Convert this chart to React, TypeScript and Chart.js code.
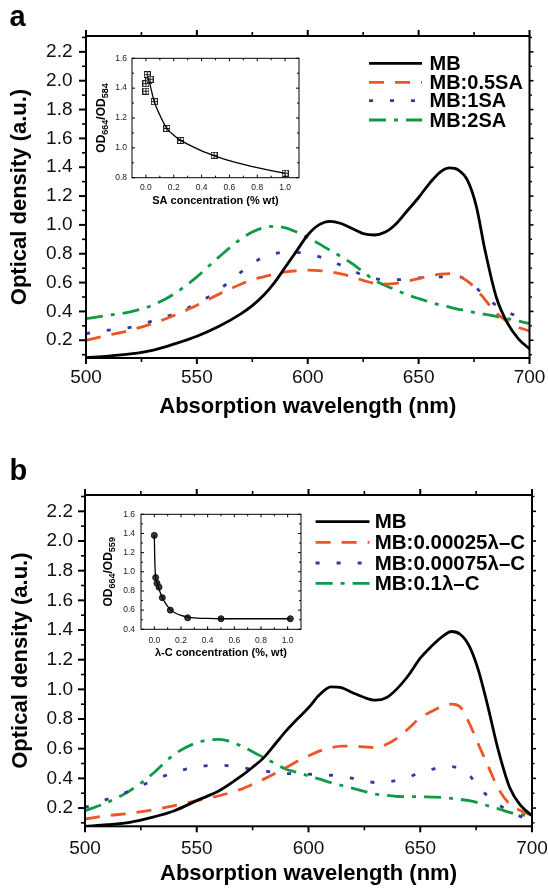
import React, { useEffect, useRef } from "react";
import { Chart, registerables } from "chart.js";

Chart.register(...registerables);

const FONT = "'Liberation Sans', Arial, Helvetica, sans-serif";
const RED = "#ee5526";
const BLUE = "#2c3aa6";
const GREEN = "#0f9a46";
const BLACK = "#000000";

const DASH_SOLID: number[] = [];
const DASH_RED = [15, 11];
const DASH_BLUE = [4, 17];
const DASH_GREEN = [17, 8, 4, 8];

// ---------------- data ----------------
const WAVELENGTH = [500, 510, 520, 530, 540, 550, 560, 570, 575, 580, 585, 590, 595, 600, 605, 610, 615, 620, 625, 630, 635, 640, 645, 650, 655, 660, 664, 668, 672, 676, 680, 685, 690, 695, 700];

const A_LABELS = ["MB", "MB:0.5SA", "MB:1SA", "MB:2SA"];
const A_MB = [0.08, 0.09, 0.105, 0.13, 0.175, 0.228, 0.297, 0.385, 0.44, 0.51, 0.6, 0.71, 0.82, 0.93, 1.0, 1.025, 1.01, 0.975, 0.94, 0.93, 0.95, 1.01, 1.1, 1.19, 1.29, 1.37, 1.395, 1.38, 1.31, 1.13, 0.82, 0.5, 0.32, 0.21, 0.14];
const A_SA05 = [0.2, 0.235, 0.27, 0.316, 0.373, 0.443, 0.52, 0.59, 0.62, 0.64, 0.66, 0.674, 0.682, 0.686, 0.683, 0.674, 0.66, 0.64, 0.615, 0.595, 0.59, 0.595, 0.61, 0.628, 0.645, 0.658, 0.662, 0.645, 0.61, 0.555, 0.48, 0.39, 0.33, 0.29, 0.265];
const A_SA1 = [0.246, 0.27, 0.29, 0.334, 0.385, 0.454, 0.55, 0.674, 0.73, 0.778, 0.8, 0.813, 0.81, 0.8, 0.78, 0.755, 0.72, 0.686, 0.65, 0.628, 0.62, 0.62, 0.625, 0.632, 0.636, 0.64, 0.64, 0.64, 0.615, 0.565, 0.5, 0.443, 0.397, 0.362, 0.327];
const A_SA2 = [0.35, 0.373, 0.397, 0.443, 0.524, 0.64, 0.778, 0.905, 0.95, 0.98, 0.99, 0.98, 0.95, 0.912, 0.87, 0.824, 0.78, 0.732, 0.675, 0.616, 0.58, 0.547, 0.515, 0.489, 0.465, 0.443, 0.43, 0.415, 0.405, 0.39, 0.38, 0.365, 0.35, 0.333, 0.316];

const B_LABELS = ["MB", "MB:0.00025\u03bb\u2013C", "MB:0.00075\u03bb\u2013C", "MB:0.1\u03bb\u2013C"];
const B_MB = [0.077, 0.088, 0.104, 0.137, 0.182, 0.25, 0.316, 0.417, 0.475, 0.54, 0.63, 0.72, 0.8, 0.876, 0.965, 1.017, 1.01, 0.976, 0.945, 0.927, 0.945, 1.01, 1.1, 1.21, 1.29, 1.357, 1.39, 1.37, 1.29, 1.13, 0.9, 0.585, 0.339, 0.216, 0.15];
const B_LC1 = [0.126, 0.149, 0.164, 0.187, 0.216, 0.25, 0.283, 0.328, 0.36, 0.395, 0.433, 0.473, 0.515, 0.551, 0.585, 0.607, 0.617, 0.618, 0.612, 0.607, 0.63, 0.674, 0.74, 0.808, 0.85, 0.887, 0.9, 0.88, 0.77, 0.63, 0.495, 0.33, 0.227, 0.182, 0.149];
const B_LC2 = [0.204, 0.26, 0.316, 0.383, 0.44, 0.477, 0.489, 0.473, 0.46, 0.45, 0.44, 0.433, 0.43, 0.428, 0.425, 0.421, 0.412, 0.4, 0.385, 0.372, 0.375, 0.388, 0.41, 0.44, 0.46, 0.477, 0.48, 0.462, 0.42, 0.345, 0.283, 0.222, 0.182, 0.142, 0.104];
const B_LC3 = [0.182, 0.238, 0.316, 0.428, 0.562, 0.64, 0.663, 0.618, 0.58, 0.54, 0.5, 0.462, 0.44, 0.417, 0.395, 0.372, 0.352, 0.332, 0.312, 0.294, 0.285, 0.278, 0.277, 0.276, 0.274, 0.272, 0.265, 0.258, 0.25, 0.235, 0.216, 0.195, 0.171, 0.155, 0.144];

const WL_MAJOR = [500, 550, 600, 650, 700];
const WL_MINOR = [525, 575, 625, 675];
const OD_MAJOR = [0.2, 0.4, 0.6, 0.8, 1.0, 1.2, 1.4, 1.6, 1.8, 2.0, 2.2];
const OD_MINOR = [0.1, 0.3, 0.5, 0.7, 0.9, 1.1, 1.3, 1.5, 1.7, 1.9, 2.1, 2.3];

// inset a (SA)
const SA_CONC = [0, 0, 0.01, 0.02, 0.03, 0.06, 0.15, 0.25, 0.49, 1.0];
const SA_RATIO = [1.38, 1.43, 1.49, 1.45, 1.46, 1.31, 1.13, 1.05, 0.95, 0.83];
const SA_FIT_X = [0.012, 0.03, 0.06, 0.1, 0.15, 0.2, 0.25, 0.3, 0.4, 0.5, 0.6, 0.7, 0.8, 0.9, 1.0];
const SA_FIT_Y = [1.48, 1.42, 1.31, 1.22, 1.13, 1.085, 1.05, 1.025, 0.98, 0.945, 0.914, 0.89, 0.867, 0.847, 0.83];
const SA_Y_MAJOR = [0.8, 1.0, 1.2, 1.4, 1.6];
const SA_Y_MINOR = [0.9, 1.1, 1.3, 1.5];

// inset b (lambda-C)
const LC_CONC = [0, 0.01, 0.02, 0.035, 0.06, 0.12, 0.25, 0.5, 1.02];
const LC_RATIO = [1.38, 0.94, 0.88, 0.84, 0.73, 0.6, 0.52, 0.51, 0.51];
const LC_FIT_X = [0, 0.003, 0.008, 0.015, 0.025, 0.04, 0.06, 0.08, 0.1, 0.125, 0.15, 0.2, 0.25, 0.3, 0.4, 0.5, 0.75, 1.02];
const LC_FIT_Y = [1.38, 1.15, 0.97, 0.91, 0.87, 0.8, 0.73, 0.68, 0.64, 0.6, 0.575, 0.545, 0.528, 0.52, 0.513, 0.51, 0.51, 0.51];
const LC_Y_MAJOR = [0.4, 0.6, 0.8, 1.0, 1.2, 1.4, 1.6];
const LC_Y_MINOR = [0.5, 0.7, 0.9, 1.1, 1.3, 1.5];

const INSET_X_MAJOR = [0, 0.2, 0.4, 0.6, 0.8, 1.0];
const INSET_X_MINOR = [0.1, 0.3, 0.5, 0.7, 0.9];

// ---------------- plugins ----------------
type TickSet = { axis: string; values: number[]; len: number; width: number; side: string; inward: boolean };

function decorPlugin(frameWidth: number, sets: TickSet[]) {
  return {
    id: "decor",
    afterDatasetsDraw(chart: any) {
      const { ctx, chartArea: a } = chart;
      ctx.save();
      ctx.strokeStyle = "#000";
      ctx.lineCap = "butt";
      ctx.setLineDash([]);
      for (const s of sets) {
        const sc = chart.scales[s.axis];
        ctx.lineWidth = s.width;
        const d = s.inward ? -s.len : s.len;
        for (const v of s.values) {
          if (v < sc.min || v > sc.max) continue;
          const p = sc.getPixelForValue(v);
          ctx.beginPath();
          if (s.side === "bottom") { ctx.moveTo(p, a.bottom); ctx.lineTo(p, a.bottom + d); }
          else if (s.side === "top") { ctx.moveTo(p, a.top); ctx.lineTo(p, a.top - d); }
          else if (s.side === "left") { ctx.moveTo(a.left, p); ctx.lineTo(a.left - d, p); }
          else { ctx.moveTo(a.right, p); ctx.lineTo(a.right + d, p); }
          ctx.stroke();
        }
      }
      ctx.lineWidth = frameWidth;
      ctx.strokeRect(a.left, a.top, a.right - a.left, a.bottom - a.top);
      ctx.restore();
    },
  };
}

function legendPlugin(x0: number, x1: number, tx: number, rows: number[], fontPx: number) {
  return {
    id: "legendBox",
    afterDraw(chart: any) {
      const ctx = chart.ctx;
      chart.data.datasets.forEach((ds: any, i: number) => {
        if (i >= rows.length) return;
        const y = rows[i];
        ctx.save();
        ctx.strokeStyle = ds.borderColor;
        ctx.lineWidth = ds.borderWidth;
        ctx.setLineDash(ds.borderDash || []);
        ctx.beginPath();
        ctx.moveTo(x0, y);
        ctx.lineTo(x1, y);
        ctx.stroke();
        ctx.setLineDash([]);
        ctx.fillStyle = "#000";
        ctx.font = `bold ${fontPx}px ${FONT}`;
        ctx.textBaseline = "middle";
        ctx.textAlign = "left";
        ctx.fillText(ds.label, tx, y + 1);
        ctx.restore();
      });
    },
  };
}

function ratioTitlePlugin(cx: number, cy: number, sub1: string, sub2: string) {
  return {
    id: "ratioTitle",
    afterDraw(chart: any) {
      const ctx = chart.ctx;
      const big = `bold 12px ${FONT}`;
      const small = `bold 9px ${FONT}`;
      const parts: [string, string, number][] = [["OD", big, 0], [sub1, small, 3], ["/OD", big, 0], [sub2, small, 3]];
      ctx.save();
      let total = 0;
      for (const [t, f] of parts) { ctx.font = f; total += ctx.measureText(t).width; }
      ctx.translate(cx, cy);
      ctx.rotate(-Math.PI / 2);
      ctx.fillStyle = "#000";
      ctx.textBaseline = "alphabetic";
      ctx.textAlign = "left";
      let x = -total / 2;
      for (const [t, f, dy] of parts) {
        ctx.font = f;
        ctx.fillText(t, x, 4.3 + dy);
        x += ctx.measureText(t).width;
      }
      ctx.restore();
    },
  };
}

function zeroPad(sc: any) {
  sc.paddingLeft = 0;
  sc.paddingRight = 0;
  sc.paddingTop = 0;
  sc.paddingBottom = 0;
}

// ---------------- configs ----------------
type MainSpec = {
  W: number; H: number; left: number; right: number; top: number; bottom: number;
  xTickPad: number; yTickPad: number; xTitlePad: number; yTitlePad: number;
  labels: string[]; values: number[][];
  legend: { x0: number; x1: number; tx: number; rows: number[]; font: number };
};

const SERIES_STYLE = [
  { color: BLACK, dash: DASH_SOLID },
  { color: RED, dash: DASH_RED },
  { color: BLUE, dash: DASH_BLUE },
  { color: GREEN, dash: DASH_GREEN },
];

function mainConfig(s: MainSpec): any {
  const datasets = s.labels.map((label, k) => ({
    label,
    data: WAVELENGTH.map((x, i) => ({ x, y: s.values[k][i] })),
    borderColor: SERIES_STYLE[k].color,
    borderWidth: 2.8,
    borderDash: SERIES_STYLE[k].dash,
    borderCapStyle: "butt",
    pointRadius: 0,
    fill: false,
    cubicInterpolationMode: "monotone",
  }));
  const tickFont = { family: FONT, size: 19 };
  const titleFont = { family: FONT, size: 22, weight: "bold" as const };
  return {
    type: "line",
    data: { datasets },
    options: {
      responsive: false,
      animation: false,
      events: [],
      layout: { padding: { top: s.top, right: s.W - s.right, left: 0, bottom: 0 } },
      plugins: { legend: { display: false }, tooltip: { enabled: false } },
      scales: {
        x: {
          type: "linear",
          min: 500,
          max: 700,
          afterBuildTicks: (sc: any) => { sc.ticks = WL_MAJOR.map((v) => ({ value: v })); },
          afterFit: (sc: any) => { sc.height = s.H - s.bottom; zeroPad(sc); },
          ticks: { font: tickFont, color: "#111", padding: s.xTickPad, maxRotation: 0, autoSkip: false, callback: (v: any) => String(v) },
          grid: { drawOnChartArea: false, drawTicks: false },
          border: { display: false },
          title: { display: true, text: "Absorption wavelength (nm)", font: titleFont, color: "#000", padding: { top: 0, bottom: s.xTitlePad } },
        },
        y: {
          type: "linear",
          min: 0.077,
          max: 2.31,
          afterBuildTicks: (sc: any) => { sc.ticks = OD_MAJOR.map((v) => ({ value: v })); },
          afterFit: (sc: any) => { sc.width = s.left; zeroPad(sc); },
          ticks: { font: tickFont, color: "#111", padding: s.yTickPad, autoSkip: false, callback: (v: any) => Number(v).toFixed(1) },
          grid: { drawOnChartArea: false, drawTicks: false },
          border: { display: false },
          title: { display: true, text: "Optical density (a.u.)", font: titleFont, color: "#000", padding: { top: s.yTitlePad, bottom: 0 } },
        },
      },
    },
    plugins: [
      decorPlugin(2, [
        { axis: "x", values: WL_MAJOR, len: 6, width: 2, side: "bottom", inward: false },
        { axis: "x", values: WL_MINOR, len: 4, width: 1.6, side: "bottom", inward: false },
        { axis: "x", values: WL_MAJOR, len: 6, width: 2, side: "top", inward: false },
        { axis: "x", values: WL_MINOR, len: 4, width: 1.6, side: "top", inward: false },
        { axis: "y", values: OD_MAJOR, len: 7, width: 2, side: "left", inward: false },
        { axis: "y", values: OD_MINOR, len: 4, width: 1.6, side: "left", inward: false },
        { axis: "y", values: OD_MAJOR, len: 4, width: 1.6, side: "right", inward: false },
        { axis: "y", values: OD_MINOR, len: 2.5, width: 1.4, side: "right", inward: false },
      ]),
      legendPlugin(s.legend.x0, s.legend.x1, s.legend.tx, s.legend.rows, s.legend.font),
    ],
  };
}

type InsetSpec = {
  W: number; H: number; left: number; right: number; top: number; bottom: number;
  yMin: number; yMax: number; yMajor: number[]; yMinor: number[];
  xTickPad: number; yTickPad: number; xTitlePad: number;
  xTitle: string; sub1: string; sub2: string; titleX: number;
  px: number[]; py: number[]; fx: number[]; fy: number[];
  marker: "square" | "circle";
};

function squareMarker(): HTMLCanvasElement {
  const c = document.createElement("canvas");
  c.width = 7;
  c.height = 7;
  const g = c.getContext("2d")!;
  g.fillStyle = "#ffffff";
  g.fillRect(0.5, 0.5, 6, 6);
  g.strokeStyle = "#222";
  g.lineWidth = 1;
  g.strokeRect(0.5, 0.5, 6, 6);
  g.beginPath();
  g.moveTo(3.5, 0.5); g.lineTo(3.5, 6.5);
  g.moveTo(0.5, 3.5); g.lineTo(6.5, 3.5);
  g.stroke();
  return c;
}

function insetConfig(s: InsetSpec): any {
  const tickFont = { family: FONT, size: 8.5 };
  const marker = s.marker === "square"
    ? { pointStyle: squareMarker(), pointRadius: 3.5, pointBackgroundColor: "#fff", pointBorderColor: "#222", pointBorderWidth: 1 }
    : { pointStyle: "circle", pointRadius: 3, pointBackgroundColor: "#3a3a3a", pointBorderColor: "#111", pointBorderWidth: 1 };
  return {
    type: "line",
    data: {
      datasets: [
        {
          label: "fit",
          data: s.fx.map((x, i) => ({ x, y: s.fy[i] })),
          borderColor: "#000",
          borderWidth: 1.3,
          pointRadius: 0,
          fill: false,
          cubicInterpolationMode: "monotone",
        },
        {
          label: "data",
          data: s.px.map((x, i) => ({ x, y: s.py[i] })),
          showLine: false,
          ...marker,
        },
      ],
    },
    options: {
      responsive: false,
      animation: false,
      events: [],
      layout: { padding: { top: s.top, right: s.W - s.right, left: 0, bottom: 0 } },
      plugins: { legend: { display: false }, tooltip: { enabled: false } },
      scales: {
        x: {
          type: "linear",
          min: -0.1,
          max: 1.1,
          afterBuildTicks: (sc: any) => { sc.ticks = INSET_X_MAJOR.map((v) => ({ value: v })); },
          afterFit: (sc: any) => { sc.height = s.H - s.bottom; zeroPad(sc); },
          ticks: { font: tickFont, color: "#222", padding: s.xTickPad, maxRotation: 0, autoSkip: false, callback: (v: any) => Number(v).toFixed(1) },
          grid: { drawOnChartArea: false, drawTicks: false },
          border: { display: false },
          title: { display: true, text: s.xTitle, font: { family: FONT, size: 11, weight: "bold" }, color: "#000", padding: { top: 0, bottom: s.xTitlePad } },
        },
        y: {
          type: "linear",
          min: s.yMin,
          max: s.yMax,
          afterBuildTicks: (sc: any) => { sc.ticks = s.yMajor.map((v) => ({ value: v })); },
          afterFit: (sc: any) => { sc.width = s.left; zeroPad(sc); },
          ticks: { font: tickFont, color: "#222", padding: s.yTickPad, autoSkip: false, callback: (v: any) => Number(v).toFixed(1) },
          grid: { drawOnChartArea: false, drawTicks: false },
          border: { display: false },
        },
      },
    },
    plugins: [
      decorPlugin(1, [
        { axis: "x", values: INSET_X_MAJOR, len: 3, width: 1, side: "bottom", inward: true },
        { axis: "x", values: INSET_X_MINOR, len: 2, width: 1, side: "bottom", inward: true },
        { axis: "x", values: INSET_X_MAJOR, len: 3, width: 1, side: "top", inward: true },
        { axis: "x", values: INSET_X_MINOR, len: 2, width: 1, side: "top", inward: true },
        { axis: "y", values: s.yMajor, len: 3, width: 1, side: "left", inward: true },
        { axis: "y", values: s.yMinor, len: 2, width: 1, side: "left", inward: true },
        { axis: "y", values: s.yMajor, len: 3, width: 1, side: "right", inward: true },
        { axis: "y", values: s.yMinor, len: 2, width: 1, side: "right", inward: true },
      ]),
      ratioTitlePlugin(s.titleX, (s.top + s.bottom) / 2, s.sub1, s.sub2),
    ],
  };
}

// ---------------- components ----------------
function ChartBox(props: { left: number; top: number; width: number; height: number; make: () => any }) {
  const ref = useRef<HTMLCanvasElement>(null);
  useEffect(() => {
    const chart = new Chart(ref.current as HTMLCanvasElement, props.make());
    return () => chart.destroy();
  }, []);
  return (
    <canvas
      ref={ref}
      width={props.width}
      height={props.height}
      style={{ position: "absolute", left: props.left, top: props.top, width: props.width, height: props.height }}
    />
  );
}

const panelA: MainSpec = {
  W: 548, H: 444, left: 86, right: 529.5, top: 36, bottom: 358,
  xTickPad: 8.6, yTickPad: 13.5, xTitlePad: 24, yTitlePad: 6.8,
  labels: A_LABELS, values: [A_MB, A_SA05, A_SA1, A_SA2],
  legend: { x0: 369, x1: 422, tx: 429.5, rows: [63.3, 82.3, 100.7, 120], font: 20 },
};

const panelB: MainSpec = {
  W: 548, H: 444, left: 85, right: 532, top: 51, bottom: 382.3,
  xTickPad: 10.6, yTickPad: 12, xTitlePad: 0.8, yTitlePad: 7.8,
  labels: B_LABELS, values: [B_MB, B_LC1, B_LC2, B_LC3],
  legend: { x0: 315.6, x1: 369.5, tx: 374.7, rows: [77.7, 98.3, 119, 139.3], font: 20.5 },
};

const insetA: InsetSpec = {
  W: 225, H: 165, left: 47, right: 214, top: 8.3, bottom: 127.7,
  yMin: 0.8, yMax: 1.6, yMajor: SA_Y_MAJOR, yMinor: SA_Y_MINOR,
  xTickPad: 4.9, yTickPad: 5, xTitlePad: 7.4,
  xTitle: "SA concentration (% wt)", sub1: "664", sub2: "584", titleX: 15.8,
  px: SA_CONC, py: SA_RATIO, fx: SA_FIT_X, fy: SA_FIT_Y, marker: "square",
};

const insetB: InsetSpec = {
  W: 220, H: 165, left: 51, right: 211, top: 14.3, bottom: 129.3,
  yMin: 0.4, yMax: 1.6, yMajor: LC_Y_MAJOR, yMinor: LC_Y_MINOR,
  xTickPad: 6, yTickPad: 6, xTitlePad: 5.4,
  xTitle: "\u03bb-C concentration (%, wt)", sub1: "664", sub2: "559", titleX: 17.3,
  px: LC_CONC, py: LC_RATIO, fx: LC_FIT_X, fy: LC_FIT_Y, marker: "circle",
};

export default function App() {
  const labelStyle: React.CSSProperties = {
    position: "absolute",
    left: 9.5,
    fontFamily: FONT,
    fontWeight: "bold",
    fontSize: 29,
    lineHeight: "29px",
    color: "#000",
  };
  return (
    <div style={{ position: "absolute", left: 0, top: 0, width: 548, height: 888, background: "#fff", overflow: "hidden" }}>
      <ChartBox left={0} top={0} width={548} height={444} make={() => mainConfig(panelA)} />
      <ChartBox left={0} top={444} width={548} height={444} make={() => mainConfig(panelB)} />
      <ChartBox left={85} top={50} width={225} height={165} make={() => insetConfig(insetA)} />
      <ChartBox left={90} top={500} width={220} height={165} make={() => insetConfig(insetB)} />
      <div style={{ ...labelStyle, top: 2.2 }}>a</div>
      <div style={{ ...labelStyle, top: 456.2 }}>b</div>
    </div>
  );
}
